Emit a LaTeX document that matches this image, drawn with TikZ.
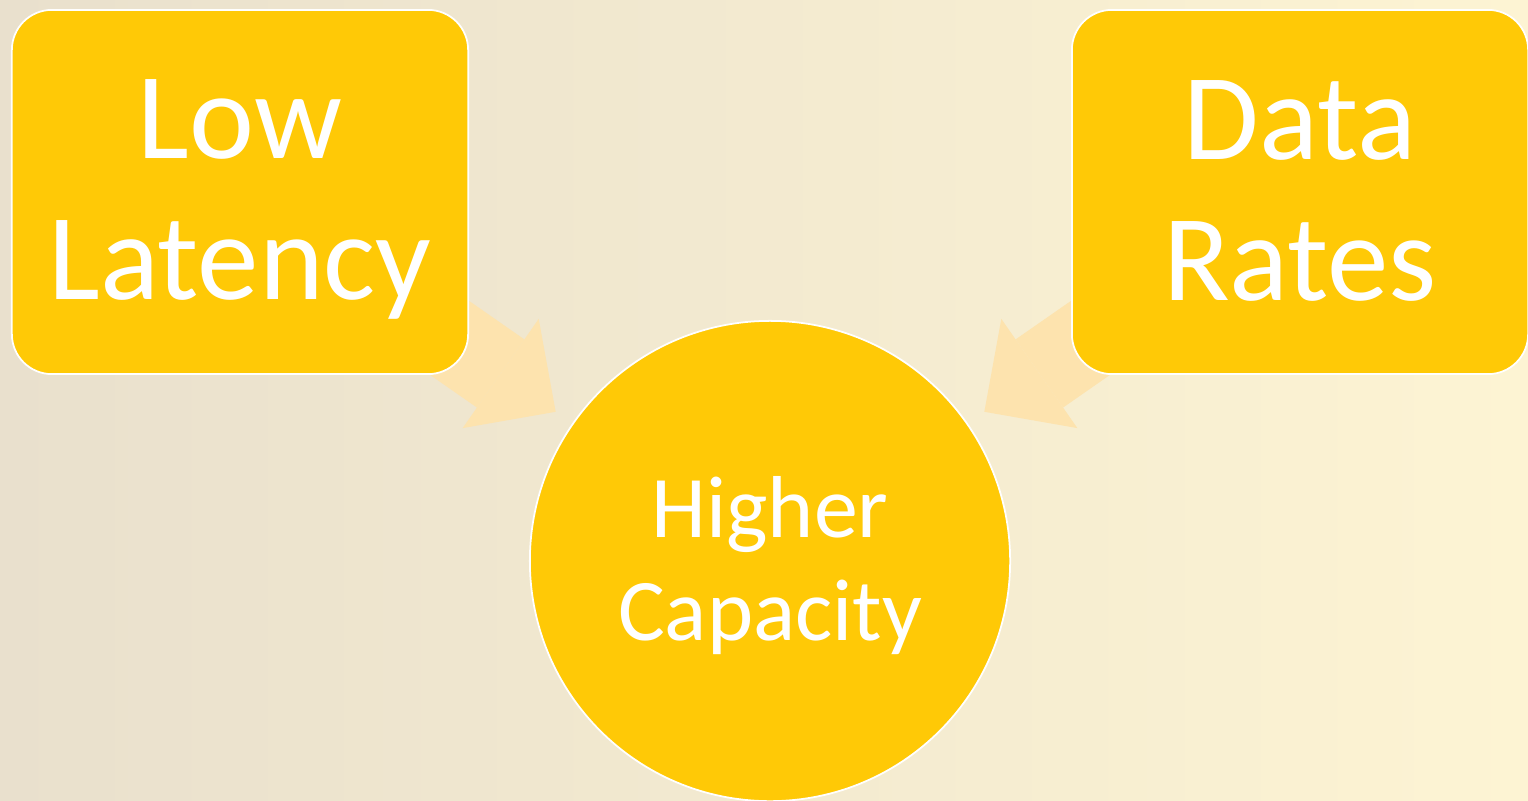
\documentclass[tikz,border=0pt]{standalone}
\usepackage{fontspec}
\setmainfont{Carlito}
\usetikzlibrary{arrows.meta, backgrounds}
\definecolor{boxgold}{HTML}{FFC906}
\definecolor{paleorange}{HTML}{FDE3AE}
\definecolor{sandbeige}{HTML}{E9E0CD}
\definecolor{lightcream}{HTML}{FDF4D3}

\begin{document}
\begin{tikzpicture}[x=0.01cm, y=-0.01cm]
\useasboundingbox (0,0) rectangle (1528,800);
\node[rectangle, rounded corners=0.4cm, minimum width=4.56cm, minimum height=3.64cm, draw=white, line width=0.5pt, fill=boxgold, text=white, align=center, font=\fontsize{35}{40}\selectfont] (latency) at (240,192) {\rule{0pt}{0.94cm}Low\\Latency};
\node[rectangle, rounded corners=0.4cm, minimum width=4.56cm, minimum height=3.64cm, draw=white, line width=0.5pt, fill=boxgold, text=white, align=center, font=\fontsize{35}{40}\selectfont] (rates) at (1300,192) {\rule{0pt}{0.94cm}Data\\Rates\rule[-0.18cm]{0pt}{0.18cm}};
\node[circle, minimum size=4.8cm, draw=white, line width=0.5pt, fill=boxgold, text=white, align=center, font=\fontsize{25}{29.3}\selectfont] (capacity) at (770,561) {\rule{0pt}{0.71cm}Higher\\Capacity};

\begin{scope}[on background layer]
\fill[left color=sandbeige, right color=lightcream] (0,0) rectangle (1528,800);
\draw[paleorange, line width=0.83cm, -{Triangle[length=0.67cm, width=1.33cm, line width=0pt]}, shorten >=2.61cm] (latency.center) -- (capacity.center);
\draw[paleorange, line width=0.83cm, -{Triangle[length=0.67cm, width=1.33cm, line width=0pt]}, shorten >=2.61cm] (rates.center) -- (capacity.center);
\end{scope}
\end{tikzpicture}
\end{document}
